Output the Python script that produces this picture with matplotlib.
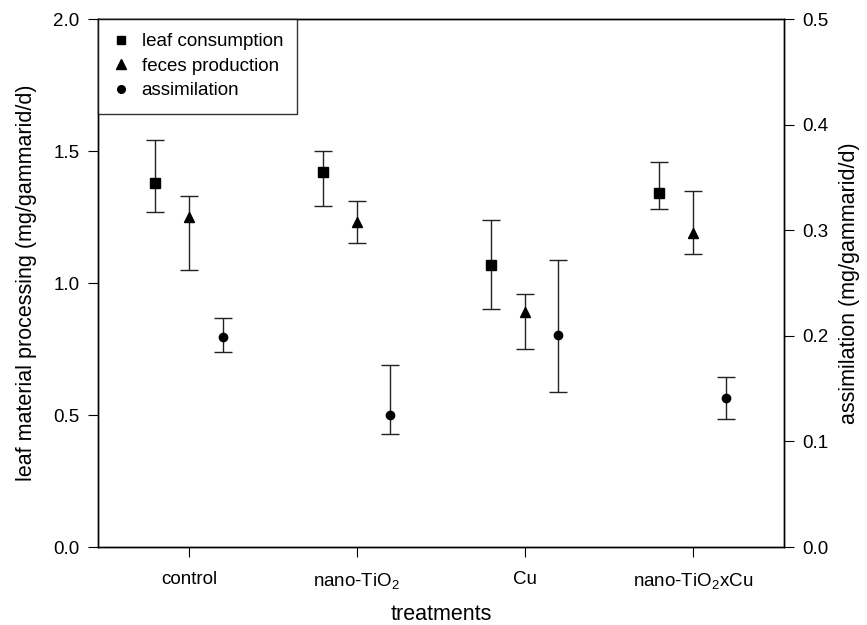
import numpy as np
import matplotlib
matplotlib.use('Agg')
import matplotlib.pyplot as plt
from matplotlib.lines import Line2D

plt.rcParams['font.family'] = ['Liberation Sans', 'DejaVu Sans']
plt.rcParams['mathtext.default'] = 'regular'

# data (mean, lower and upper end of error bar)
treatments = ['control', 'nano-TiO$_2$', 'Cu', 'nano-TiO$_2$xCu']

consumption = [1.38, 1.42, 1.07, 1.34]
consumption_lo = [1.27, 1.29, 0.90, 1.28]
consumption_hi = [1.54, 1.50, 1.24, 1.46]

feces = [1.25, 1.23, 0.89, 1.19]
feces_lo = [1.05, 1.15, 0.75, 1.11]
feces_hi = [1.33, 1.31, 0.96, 1.35]

assim = [0.199, 0.125, 0.201, 0.141]
assim_lo = [0.185, 0.107, 0.147, 0.121]
assim_hi = [0.217, 0.172, 0.272, 0.161]


def err(mean, lo, hi):
    mean, lo, hi = np.array(mean), np.array(lo), np.array(hi)
    return [mean - lo, hi - mean]


x = np.arange(1, len(treatments) + 1)

fig = plt.figure(figsize=(8.67, 6.25), dpi=100)
ax = fig.add_axes([0.1126, 0.1248, 0.7917, 0.8448])
ax2 = ax.twinx()

eb = dict(color='black', ecolor='#222222', elinewidth=1.0, capsize=6.7,
          capthick=1.0, linestyle='none')

ax.errorbar(x - 0.2, consumption, yerr=err(consumption, consumption_lo, consumption_hi),
            marker='s', markersize=6.5, **eb)
ax.errorbar(x, feces, yerr=err(feces, feces_lo, feces_hi),
            marker='^', markersize=7.5, **eb)
ax2.errorbar(x + 0.2, assim, yerr=err(assim, assim_lo, assim_hi),
             marker='o', markersize=6, **eb)

ax.set_xlim(0.456, 4.544)
ax.set_ylim(0, 2.0)
ax2.set_ylim(0, 0.5)
ax.set_yticks([0.0, 0.5, 1.0, 1.5, 2.0])
ax2.set_yticks([0.0, 0.1, 0.2, 0.3, 0.4, 0.5])
ax.set_xticks(x)
ax.set_xticklabels(treatments)

for a in (ax, ax2):
    a.tick_params(direction='out', length=7, width=0.8, labelsize=13.5, colors='black', pad=6)
    for s in a.spines.values():
        s.set_linewidth(1.0)
ax.tick_params(axis='x', pad=10)

ax.set_ylabel('leaf material processing (mg/gammarid/d)', fontsize=15.5, labelpad=12)
ax2.set_ylabel('assimilation (mg/gammarid/d)', fontsize=15.5, labelpad=8)
ax.set_xlabel('treatments', fontsize=15.5, labelpad=10)

# legend shows markers only
handles = [Line2D([], [], color='black', marker='s', markersize=6, linestyle='none'),
           Line2D([], [], color='black', marker='^', markersize=7, linestyle='none'),
           Line2D([], [], color='black', marker='o', markersize=5.5, linestyle='none')]
leg = ax2.legend(handles, ['leaf consumption', 'feces production', 'assimilation'],
                 loc='upper left', fontsize=13.5, frameon=True, fancybox=False,
                 edgecolor='black', borderaxespad=0, handlelength=1.0,
                 handletextpad=0.6, labelspacing=0.4, borderpad=0.75)
leg.get_frame().set_linewidth(1.0)

fig.savefig('out.png', dpi=100)
